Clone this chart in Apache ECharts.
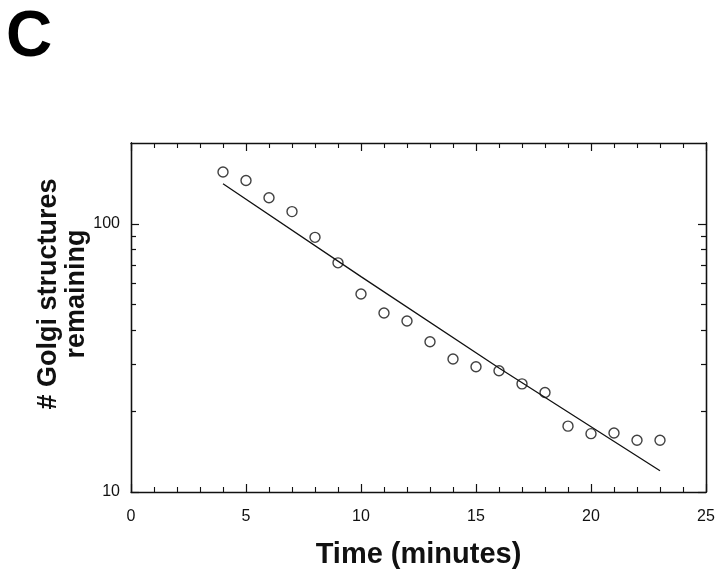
<!DOCTYPE html>
<html>
<head>
<meta charset="utf-8">
<script src="https://cdn.jsdelivr.net/npm/echarts@6/dist/echarts.min.js"></script>
<style>
html,body{margin:0;padding:0;background:#fff;}
#chart{width:720px;height:574px;}
</style>
</head>
<body>
<div id="chart"></div>
<script>
// Observed data (time in minutes, number of Golgi structures remaining)
const timePoints = [4, 5, 6, 7, 8, 9, 10, 11, 12, 13, 14, 15, 16, 17, 18, 19, 20, 21, 22, 23];
const golgiCounts = [156, 145, 125, 111, 89, 71.5, 54.7, 46.5, 43.4, 36.3, 31.3, 29.3, 28.3, 25.3, 23.5, 17.6, 16.5, 16.6, 15.6, 15.6];
// Fitted decay line
const fitTimes = [4, 10, 16, 23];
const fitValues = [141, 63.5, 29, 12];
// Axis ticks
const xTicks = [0, 5, 10, 15, 20, 25];
const yMajorTicks = [10, 100];
const yMinorTicks = [20, 30, 40, 50, 60, 70, 80, 90];

const FONT = '"Liberation Sans", Arial, Helvetica, sans-serif';
const chart = echarts.init(document.getElementById('chart'), null, {renderer: 'canvas'});

const axisLine = {show: true, lineStyle: {color: '#111', width: 1.3}};
function yAx(position, ticks, len, labels) {
  return {
    type: 'log', logBase: 10, min: 10, max: 200, position: position,
    axisLine: axisLine,
    axisTick: {show: true, inside: true, length: len, customValues: ticks, lineStyle: {color: '#111', width: 1.2}},
    axisLabel: labels ? {show: true, customValues: yMajorTicks, margin: 11, color: '#111', fontSize: 16, fontFamily: FONT} : {show: false},
    splitLine: {show: false}
  };
}
function xAx(position, labels) {
  return {
    type: 'value', min: 0, max: 25, interval: 5, position: position,
    axisLine: axisLine,
    axisTick: {show: true, inside: true, length: 8, lineStyle: {color: '#111', width: 1.2}},
    minorTick: {show: true, splitNumber: 5, length: 5, lineStyle: {color: '#111', width: 1.1}},
    axisLabel: labels ? {show: true, margin: 17, color: '#111', fontSize: 16, fontFamily: FONT,
      customValues: xTicks} : {show: false},
    splitLine: {show: false},
    name: labels ? 'Time (minutes)' : '',
    nameLocation: 'middle', nameGap: 48,
    nameTextStyle: {fontSize: 29, fontWeight: 'bold', color: '#111', fontFamily: FONT}
  };
}

const option = {
  backgroundColor: '#fff',
  animation: false,
  grid: {left: 131, right: 14, top: 143, bottom: 69},
  xAxis: [xAx('bottom', true), xAx('top', false)],
  yAxis: [
    yAx('left', yMajorTicks, 8, true),
    yAx('left', yMinorTicks, 5, false),
    yAx('right', yMajorTicks, 8, false),
    yAx('right', yMinorTicks, 5, false)
  ],
  graphic: [
    {type: 'text', left: 6, top: 6, style: {text: 'C', fontSize: 64, fontWeight: 'bold', fill: '#000', fontFamily: FONT}},
    {type: 'text', x: 63, y: 294, rotation: Math.PI / 2,
      style: {text: '# Golgi structures\nremaining', fontSize: 27, fontWeight: 'bold', lineHeight: 28,
        fill: '#111', fontFamily: FONT, textAlign: 'center', textVerticalAlign: 'middle'}}
  ],
  series: [
    {type: 'line', xAxisIndex: 0, yAxisIndex: 0, symbol: 'none',
      data: fitTimes.map((t, i) => [t, fitValues[i]]),
      lineStyle: {color: '#111', width: 1.3}},
    {type: 'scatter', xAxisIndex: 0, yAxisIndex: 0, symbol: 'circle', symbolSize: 10,
      data: timePoints.map((t, i) => [t, golgiCounts[i]]),
      itemStyle: {color: '#fff', borderColor: '#111', borderWidth: 1.4}}
  ]
};
chart.setOption(option);
</script>
</body>
</html>
